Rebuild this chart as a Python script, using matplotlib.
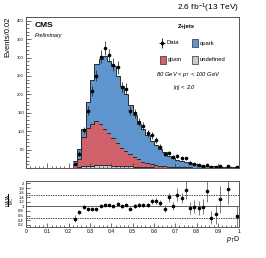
import numpy as np
import matplotlib
matplotlib.use("Agg")
import matplotlib.pyplot as plt
from matplotlib.patches import Rectangle
from matplotlib.ticker import MultipleLocator

plt.rcParams["font.family"] = ["Liberation Sans", "DejaVu Sans"]
plt.rcParams["mathtext.fontset"] = "custom"
plt.rcParams["mathtext.rm"] = "Liberation Sans"
plt.rcParams["mathtext.it"] = "Liberation Sans:italic"

# p_T D bins of width 0.02 starting at 0.22 (everything below is empty)
bin_lo = 0.22
bin_w = 0.02
undefined = [1, 2, 4, 5, 6, 7, 7, 7, 7, 6, 6, 5, 4, 4, 3, 3, 2.5, 2, 1.5, 1.2,
             1, 1, 0.8, 0.6, 0.5, 0.5, 0.4, 0.3, 0.3, 0.2, 0.2, 0.2, 0.1, 0.1,
             0.1, 0.1, 0.1, 0.1, 0.1]
gluon = [8, 22, 80, 103, 113, 120, 112, 98, 87, 76, 63, 50, 41, 33, 26, 20, 15,
         11, 8, 6, 5, 4, 3, 2.5, 2, 1.5, 1.2, 1, 0.8, 0.6, 0.5, 0.4, 0.3, 0.3,
         0.2, 0.2, 0.1, 0.1, 0.2]
quark = [11, 28, 21, 71, 121, 155, 176, 200, 196, 196, 181, 167, 155, 135, 116,
         97, 87.5, 76, 64.5, 54.8, 45, 37, 28.2, 23.9, 19.5, 16, 13.4, 11.7, 9.9,
         7.7, 5.8, 4.4, 4.6, 4.1, 2.9, 2.5, 2.1, 1.8, 3.2]
data = [10, 39, 102, 156, 209, 251, 302, 326, 306, 281, 273, 220, 215, 155, 148,
        125, 113, 94, 89, 76, 58, 38, 41, 29, 32, 26, 26, 14, 11, 8, 6, 8, 3, 3,
        4, np.nan, 4, np.nan, 2]
data_err = [3.2, 6.2, 10.1, 12.5, 14.5, 15.8, 17.4, 18.1, 17.5, 16.8, 16.5, 14.8,
            14.7, 12.4, 12.2, 11.2, 10.6, 9.7, 9.4, 8.7, 7.6, 6.2, 6.4, 5.4, 5.7,
            5.1, 5.1, 3.7, 3.3, 2.8, 2.4, 2.8, 1.7, 1.7, 2, 0, 2, 0, 1.4]
ratio = [0.46, 0.75, 0.97, 0.87, 0.87, 0.87, 1.03, 1.07, 1.06, 1.0, 1.1, 1.0,
         1.07, 0.9, 1.03, 1.06, 1.07, 1.06, 1.22, 1.25, 1.13, 0.9, 1.4, 1.03, 1.5,
         1.38, 1.72, 0.94, 0.99, 0.94, 0.99, 1.65, 0.51, 0.65, 1.3, np.nan, 1.74,
         np.nan, 0.57]
ratio_err = [0.16, 0.1, 0.08, 0.07, 0.06, 0.06, 0.06, 0.06, 0.06, 0.06, 0.07,
             0.07, 0.07, 0.07, 0.08, 0.08, 0.09, 0.1, 0.12, 0.13, 0.13, 0.14, 0.2,
             0.17, 0.28, 0.22, 0.38, 0.27, 0.3, 0.3, 0.32, 0.47, 0.28, 0.4, 0.58,
             0, 0.65, 0, 0.45]

C_QUARK = "#5e95cf"
C_GLUON = "#d0616a"
C_UNDEF = "#cbcbcb"
EDGE = "#2b2b2b"

n = len(data)
edges = bin_lo + bin_w * np.arange(n + 1)
centers = edges[:-1] + bin_w / 2

fig = plt.figure(figsize=(2.66, 2.58), dpi=100)
ax = fig.add_axes([0.098, 0.349, 0.801, 0.585])
rax = fig.add_axes([0.098, 0.120, 0.801, 0.178])

# stacked histogram: undefined, gluon, quark
bottom = np.zeros(n)
for vals, col in ((undefined, C_UNDEF), (gluon, C_GLUON), (quark, C_QUARK)):
    top = bottom + np.asarray(vals, float)
    ax.stairs(top, edges, baseline=bottom, fill=True, color=col, lw=0)
    ax.stairs(top, edges, baseline=None, color=EDGE, lw=0.7)
    bottom = top

ax.errorbar(centers, data, yerr=data_err, fmt="o", ms=1.6, color="black",
            ecolor="#222222", elinewidth=0.55, capsize=0)

ax.set_xlim(0, 1)
ax.set_ylim(0, 410)
ax.yaxis.set_major_locator(MultipleLocator(50))
ax.yaxis.set_minor_locator(MultipleLocator(10))
ax.xaxis.set_major_locator(MultipleLocator(0.1))
ax.xaxis.set_minor_locator(MultipleLocator(0.02))
ax.set_yticks([50, 100, 150, 200, 250, 300, 350, 400])
ax.tick_params(axis="both", which="both", direction="in", labelsize=3, pad=1.5,
               width=0.5, color="#333333")
ax.tick_params(which="major", length=3.5)
ax.tick_params(which="minor", length=1.8)
ax.tick_params(axis="x", labelbottom=False)
for sp in ax.spines.values():
    sp.set_linewidth(0.7)
    sp.set_color("#555555")

fig.text(0.03, 0.934, "Events/0.02", rotation=90, ha="center", va="top", fontsize=5.5)
ax.text(1.0, 1.012, "2.6 fb$^{-1}$(13 TeV)", transform=ax.transAxes,
        ha="right", va="bottom", fontsize=6)
ax.text(0.042, 0.947, "CMS", transform=ax.transAxes, ha="left", va="center",
        fontsize=6, fontweight="bold")
ax.text(0.042, 0.876, "Preliminary", transform=ax.transAxes, ha="left",
        va="center", fontsize=4, style="italic")

# legend block
ax.text(0.751, 0.934, "Z+jets", transform=ax.transAxes, ha="center",
        va="center", fontsize=4.2, fontweight="bold")
ax.errorbar([0.638], [0.828], yerr=[0.035], xerr=[0.012], fmt="o", ms=1.6,
            color="black", elinewidth=0.6, transform=ax.transAxes, clip_on=False)
ax.text(0.657, 0.828, "Data", transform=ax.transAxes, ha="left", va="center",
        fontsize=4.2)
for (x0, y0, col, lab) in ((0.779, 0.801, C_QUARK, "quark"),
                           (0.629, 0.689, C_GLUON, "gluon"),
                           (0.779, 0.689, C_UNDEF, "undefined")):
    ax.add_patch(Rectangle((x0, y0), 0.028, 0.053, transform=ax.transAxes,
                           facecolor=col, edgecolor=EDGE, lw=0.5))
    ax.text(x0 + 0.034, y0 + 0.0265, lab, transform=ax.transAxes, ha="left",
            va="center", fontsize=4.2)
ax.text(0.761, 0.616, r"80 GeV < $p_{T}$ < 100 GeV", transform=ax.transAxes,
        ha="center", va="center", fontsize=4.2, style="italic")
ax.text(0.742, 0.53, r"|$\eta$| < 2.0", transform=ax.transAxes, ha="center",
        va="center", fontsize=4.2, style="italic")

# ratio panel
rax.axhline(1.0, color="#444444", lw=0.6)
rax.axhline(1.5, color="black", lw=0.5, ls=(0, (2, 1.5)))
rax.axhline(0.5, color="black", lw=0.5, ls=(0, (2, 1.5)))
rax.errorbar(centers, ratio, yerr=ratio_err, xerr=0.005, fmt="o", ms=1.6,
             color="black", ecolor="#666666", elinewidth=0.6, capsize=0)
rax.set_xlim(0, 1)
rax.set_ylim(0.1, 2.1)
rax.xaxis.set_major_locator(MultipleLocator(0.1))
rax.xaxis.set_minor_locator(MultipleLocator(0.02))
rax.set_yticks([0.2, 0.4, 0.6, 0.8, 1, 1.2, 1.4, 1.6, 1.8, 2])
rax.set_yticklabels(["0.2", "0.4", "0.6", "0.8", "1", "1.2", "1.4", "1.6",
                     "1.8", "2"])
rax.set_xticks(np.round(np.arange(0, 1.01, 0.1), 1))
rax.set_xticklabels(["0", "0.1", "0.2", "0.3", "0.4", "0.5", "0.6", "0.7",
                     "0.8", "0.9", "1"])
rax.tick_params(axis="both", which="both", direction="in", labelsize=3, pad=1.5,
                width=0.5, color="#333333")
rax.tick_params(axis="x", labelsize=3.6)
rax.tick_params(which="major", length=3)
rax.tick_params(which="minor", length=1.5)
for sp in rax.spines.values():
    sp.set_linewidth(0.7)
    sp.set_color("#555555")
fig.text(0.038, 0.225, r"$\frac{\mathrm{DATA}}{\mathrm{MC}}$", rotation=90,
         ha="center", va="center", fontsize=4.5)
fig.text(0.902, 0.07, r"$p_{T}$D", ha="right", va="center", fontsize=5)

fig.savefig("out.png", dpi=100)
